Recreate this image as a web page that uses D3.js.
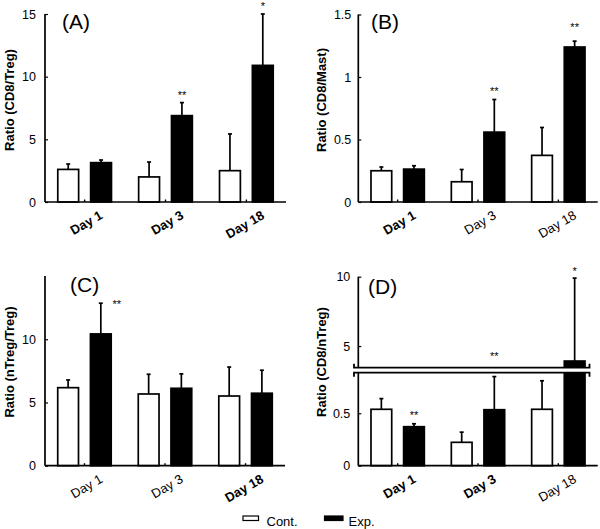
<!DOCTYPE html>
<html><head><meta charset="utf-8">
<script src="https://cdn.jsdelivr.net/npm/d3@7"></script>
<style>
html,body{margin:0;padding:0;background:#fff;}
svg{display:block;font-family:"Liberation Sans",Arial,sans-serif;}
</style></head><body>
<svg id="chart" width="600" height="529"></svg>
<script>
const days = ["Day 1", "Day 3", "Day 18"];
const seriesNames = ["Cont.", "Exp."];

// Panel A: Ratio (CD8/Treg)
const contA = [2.6, 2.0, 2.5];
const contAErr = [3.03, 3.19, 5.43];
const expA = [3.14, 6.89, 10.9];
const expAErr = [3.35, 7.93, 15.0];
const ticksA = [0, 5, 10, 15];

// Panel B: Ratio (CD8/Mast)
const contB = [0.25, 0.162, 0.373];
const contBErr = [0.28, 0.26, 0.596];
const expB = [0.263, 0.559, 1.24];
const expBErr = [0.29, 0.82, 1.287];
const ticksB = [0, 0.5, 1, 1.5];

// Panel C: Ratio (nTreg/Treg)
const contC = [6.17, 5.67, 5.51];
const contCErr = [6.78, 7.23, 7.8];
const expC = [10.42, 6.12, 5.73];
const expCErr = [12.85, 7.26, 7.55];
const ticksC = [0, 5, 10];

// Panel D: Ratio (CD8/nTreg), broken axis
const contD = [0.538, 0.223, 0.538];
const contDErr = [0.64, 0.32, 0.81];
const expD = [0.372, 0.534, 3.92];
const expDErr = [0.40, 0.85, 9.9];
const ticksDLow = [0, 0.5];
const ticksDHigh = [5, 10];

// significance marks: [day, series, text, value]
const sigA = [["Day 3", "Exp.", "**", 8.72], ["Day 18", "Exp.", "*", 15.8]];
const sigB = [["Day 3", "Exp.", "**", 0.907], ["Day 18", "Exp.", "**", 1.42]];
const sigC = [["Day 1", "Exp.", "**", 12.93]];
const sigD = [["Day 1", "Exp.", "**", 0.503], ["Day 3", "Exp.", "**", 4.42], ["Day 18", "Exp.", "*", 10.55]];

const svg = d3.select("#chart");

function panel(cfg) {
  const g = svg.append("g");
  const x = d3.scaleBand().domain(days).range([cfg.x0, cfg.x1]).paddingInner(0.336).paddingOuter(0.158);
  const xs = d3.scaleBand().domain(seriesNames).range([0, x.bandwidth()]).paddingInner(0.365);
  const yv = cfg.yv;

  const rows = [];
  days.forEach((d, i) => {
    rows.push({day: d, s: "Cont.", v: cfg.cont[i], e: cfg.contErr[i]});
    rows.push({day: d, s: "Exp.", v: cfg.exp[i], e: cfg.expErr[i]});
  });

  g.selectAll("rect.bar").data(rows).join("rect")
    .attr("x", d => x(d.day) + xs(d.s))
    .attr("width", xs.bandwidth())
    .attr("y", d => yv(d.v))
    .attr("height", d => cfg.y0 - yv(d.v))
    .attr("fill", d => d.s === "Cont." ? "#fff" : "#000")
    .attr("stroke", "#000").attr("stroke-width", 1.7);

  const eb = g.selectAll("g.eb").data(rows).join("g");
  eb.append("line")
    .attr("x1", d => x(d.day) + xs(d.s) + xs.bandwidth() / 2)
    .attr("x2", d => x(d.day) + xs(d.s) + xs.bandwidth() / 2)
    .attr("y1", d => yv(d.v)).attr("y2", d => yv(d.e))
    .attr("stroke", "#000").attr("stroke-width", 1.7);
  eb.append("line")
    .attr("x1", d => x(d.day) + xs(d.s) + xs.bandwidth() / 2 - 2)
    .attr("x2", d => x(d.day) + xs(d.s) + xs.bandwidth() / 2 + 2)
    .attr("y1", d => yv(d.e)).attr("y2", d => yv(d.e))
    .attr("stroke", "#000").attr("stroke-width", 1.7);

  if (cfg.afterBars) cfg.afterBars(g, x, xs);

  cfg.yAxes.forEach(ax => {
    const a = g.append("g").attr("transform", `translate(${cfg.x0},0)`)
      .call(d3.axisLeft(ax.scale).tickValues(ax.ticks).tickSize(-3).tickSizeOuter(0)
        .tickPadding(cfg.tickPad).tickFormat(d => String(d)));
    a.select(".domain").attr("stroke-width", 1.7).attr("d", `M0,${ax.range[0]}V${ax.range[1]}`);
    a.selectAll(".tick line").attr("stroke-width", 1.2);
    a.selectAll(".tick text").attr("font-size", 12.5).attr("fill", "#000")
      .attr("font-family", '"Liberation Sans",Arial,sans-serif');
  });

  g.append("line").attr("x1", cfg.x0).attr("x2", cfg.x1).attr("y1", cfg.y0).attr("y2", cfg.y0)
    .attr("stroke", "#000").attr("stroke-width", 1.7);
  g.selectAll("line.ct").data(days).join("line")
    .attr("x1", d => x(d) + x.bandwidth() / 2).attr("x2", d => x(d) + x.bandwidth() / 2)
    .attr("y1", cfg.y0).attr("y2", cfg.y0 - 2.5)
    .attr("stroke", "#000").attr("stroke-width", 1.4);
  g.selectAll("text.cat").data(days).join("text")
    .attr("transform", d => `translate(${x(d) + x.bandwidth() / 2 + 19},${cfg.y0 + 16}) rotate(-30)`)
    .attr("text-anchor", "end").attr("font-size", 13)
    .attr("font-weight", (d, i) => cfg.bold[i] ? "bold" : "normal")
    .text(d => d);

  g.append("text").attr("transform", `translate(${cfg.titleX},${cfg.titleY}) rotate(-90)`)
    .attr("text-anchor", "middle").attr("font-size", 13).attr("font-weight", "bold")
    .text(cfg.title);

  g.append("text").attr("x", cfg.letterX).attr("y", cfg.letterY)
    .attr("font-size", 21).text(cfg.letter);

  cfg.sig.forEach(s => {
    const cx = x(s[0]) + xs(s[1]) + xs.bandwidth() / 2 + (cfg.sigDx || 0);
    g.append("text").attr("x", cx).attr("y", yv(s[3]) + 6)
      .attr("text-anchor", "middle").attr("font-size", 11).attr("fill", "#000").text(s[2]);
  });
}

const yA = d3.scaleLinear().domain([0, 15]).range([202, 14]);
panel({x0: 45, x1: 286, y0: 202, yv: yA, cont: contA, contErr: contAErr, exp: expA, expErr: expAErr,
  yAxes: [{scale: yA, ticks: ticksA, range: [202, 14]}], tickPad: 9,
  bold: [true, true, true], title: "Ratio (CD8/Treg)", titleX: 14, titleY: 100,
  letter: "(A)", letterX: 62, letterY: 29, sig: sigA});

const yB = d3.scaleLinear().domain([0, 1.5]).range([202, 14.5]);
panel({x0: 358.3, x1: 597.7, y0: 202, yv: yB, cont: contB, contErr: contBErr, exp: expB, expErr: expBErr,
  yAxes: [{scale: yB, ticks: ticksB, range: [202, 14.5]}], tickPad: 7,
  bold: [true, false, false], title: "Ratio (CD8/Mast)", titleX: 326, titleY: 100,
  letter: "(B)", letterX: 371, letterY: 29, sig: sigB});

const yC = d3.scaleLinear().domain([0, 15]).range([465.7, 276]);
panel({x0: 45, x1: 285, y0: 465.7, yv: yC, cont: contC, contErr: contCErr, exp: expC, expErr: expCErr,
  yAxes: [{scale: yC, ticks: ticksC, range: [465.7, 276]}], tickPad: 9,
  bold: [false, false, true], title: "Ratio (nTreg/Treg)", titleX: 14, titleY: 362,
  letter: "(C)", letterX: 70, letterY: 292, sig: sigC, sigDx: 16});

const yDLow = d3.scaleLinear().domain([0, 0.887]).range([465.7, 372.7]);
const yDHigh = d3.scaleLinear().domain([3.44, 10]).range([367.7, 276.7]);
const yD = v => v <= 0.887 ? yDLow(v) : yDHigh(Math.max(v, 3.44));
panel({x0: 358.3, x1: 597.7, y0: 465.7, yv: yD, cont: contD, contErr: contDErr, exp: expD, expErr: expDErr,
  yAxes: [{scale: yDLow, ticks: ticksDLow, range: [465.7, 372.7]}, {scale: yDHigh, ticks: ticksDHigh, range: [367.7, 276.7]}],
  tickPad: 8, bold: [true, true, false], title: "Ratio (CD8/nTreg)", titleX: 326, titleY: 362,
  letter: "(D)", letterX: 368, letterY: 294, sig: sigD,
  afterBars: (g) => {
    const yt = yDHigh.range()[0], yb = yDLow.range()[1];
    g.append("rect").attr("x", 354).attr("width", 236).attr("y", yt).attr("height", yb - yt).attr("fill", "#fff");
    const path = `M354,${yt - 4}V${yt}H589.5V${yt - 4}M354,${yb + 4}V${yb}H589.5V${yb + 4}`;
    g.append("path").attr("d", path).attr("fill", "none").attr("stroke", "#000").attr("stroke-width", 1.8);
  }});

const legend = svg.append("g");
const lx = d3.scaleOrdinal().domain(seriesNames).range([243, 324.5]);
seriesNames.forEach(s => {
  legend.append("rect").attr("x", lx(s)).attr("y", 516).attr("width", s === "Cont." ? 15.5 : 18.5).attr("height", 4.5)
    .attr("fill", s === "Cont." ? "#fff" : "#000").attr("stroke", "#000").attr("stroke-width", 1.2);
  legend.append("text").attr("x", lx(s) + (s === "Cont." ? 23.5 : 24)).attr("y", 526)
    .attr("font-size", 13).text(s);
});
</script>
</body></html>
